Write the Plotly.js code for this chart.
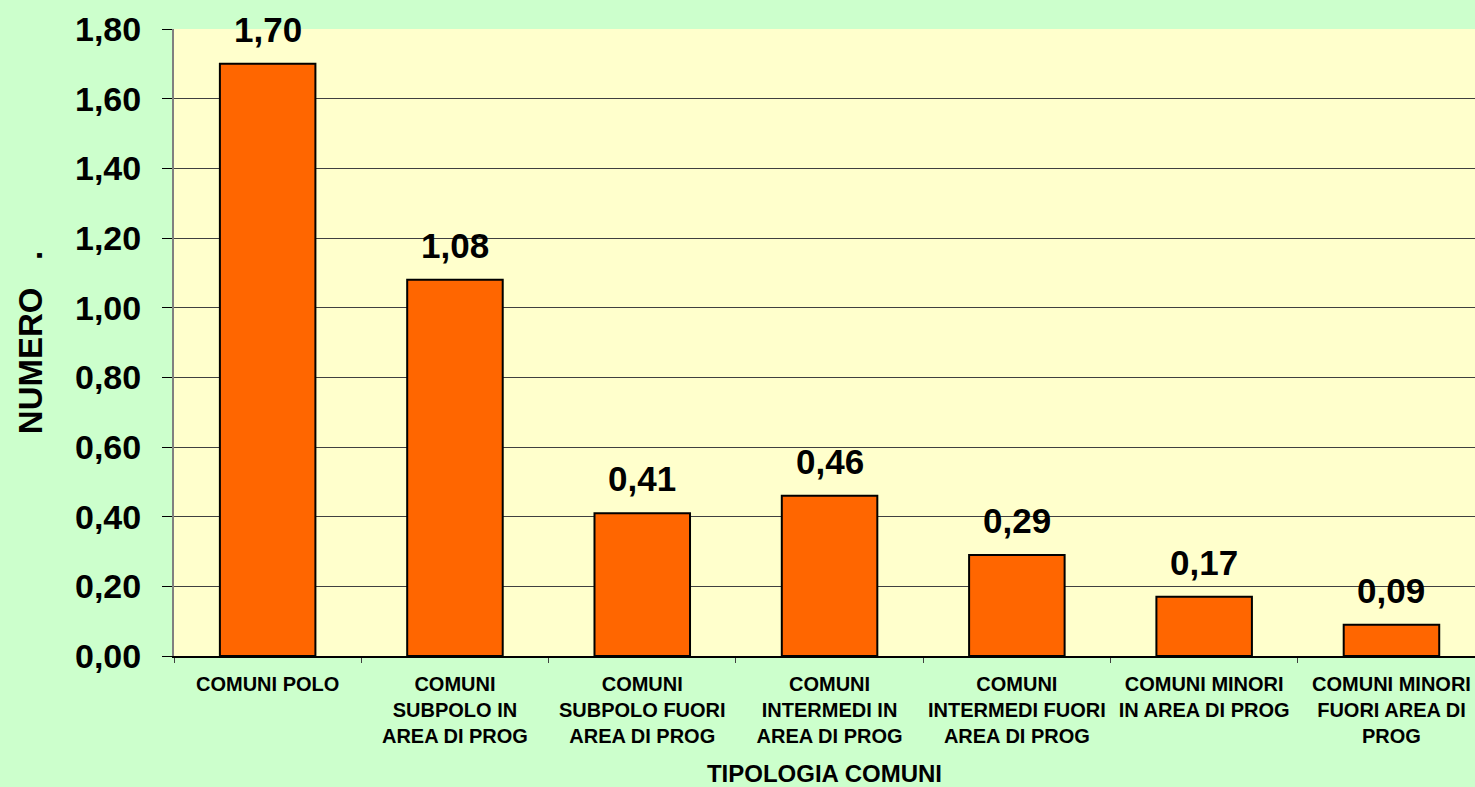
<!DOCTYPE html>
<html>
<head>
<meta charset="utf-8">
<script src="https://cdn.plot.ly/plotly-3.0.1.min.js"></script>
<style>
  html, body { margin: 0; padding: 0; background: #CCFFCC; }
  #chart { width: 1475px; height: 787px; }
</style>
</head>
<body>
<div id="chart"></div>
<script>
// Municipality types and their values
const categories = [
  "COMUNI POLO",
  "COMUNI SUBPOLO IN AREA DI PROG",
  "COMUNI SUBPOLO FUORI AREA DI PROG",
  "COMUNI INTERMEDI IN AREA DI PROG",
  "COMUNI INTERMEDI FUORI AREA DI PROG",
  "COMUNI MINORI IN AREA DI PROG",
  "COMUNI MINORI FUORI AREA DI PROG"
];
const tickLabels = [
  "COMUNI POLO",
  "COMUNI<br>SUBPOLO IN<br>AREA DI PROG",
  "COMUNI<br>SUBPOLO FUORI<br>AREA DI PROG",
  "COMUNI<br>INTERMEDI IN<br>AREA DI PROG",
  "COMUNI<br>INTERMEDI FUORI<br>AREA DI PROG",
  "COMUNI MINORI<br>IN AREA DI PROG",
  "COMUNI MINORI<br>FUORI AREA DI<br>PROG"
];
const values = [1.70, 1.08, 0.41, 0.46, 0.29, 0.17, 0.09];
const yTicks = [0, 0.2, 0.4, 0.6, 0.8, 1.0, 1.2, 1.4, 1.6, 1.8];

const FONT = '"Liberation Sans", Arial, sans-serif';

const bars = {
  type: 'bar',
  x: categories,
  y: values,
  width: 0.51,
  marker: { color: '#FF6600', line: { color: '#000000', width: 2 } },
  hoverinfo: 'x+y'
};

// value labels above each bar
const labels = categories.map((c, i) => ({
  x: c,
  y: values[i],
  xref: 'x',
  yref: 'y',
  text: '<b>' + values[i].toFixed(2).replace('.', ',') + '</b>',
  showarrow: false,
  yanchor: 'bottom',
  yshift: 13,
  font: { family: FONT, size: 35, color: '#000000' }
}));

const layout = {
  width: 1475,
  height: 787,
  paper_bgcolor: '#CCFFCC',
  plot_bgcolor: '#FFFFCC',
  separators: ',.',
  margin: { l: 174, r: 0, t: 29, b: 131 },
  showlegend: false,
  bargap: 0,
  xaxis: {
    type: 'category',
    range: [-0.5, 6.446],
    tickmode: 'array',
    tickvals: categories,
    ticktext: tickLabels,
    tickson: 'boundaries',
    ticks: 'outside',
    ticklen: 5,
    tickcolor: '#404040',
    tickwidth: 1,
    tickangle: 0,
    showline: true,
    linecolor: '#000000',
    linewidth: 2,
    showgrid: false,
    zeroline: false,
    automargin: false,
    ticklabelstandoff: 9,
    tickfont: { family: FONT, size: 20, color: '#000000', weight: 'bold' },
    title: {
      text: '<b>TIPOLOGIA COMUNI</b>',
      standoff: 23,
      font: { family: FONT, size: 24, color: '#000000' }
    }
  },
  yaxis: {
    range: [0, 1.8],
    tickmode: 'array',
    tickvals: yTicks,
    tickformat: '.2f',
    ticks: 'outside',
    ticklen: 10,
    tickcolor: '#000000',
    tickwidth: 1,
    showline: true,
    linecolor: '#808080',
    linewidth: 2,
    showgrid: true,
    gridcolor: '#404040',
    gridwidth: 1,
    zeroline: false,
    automargin: false,
    ticklabelstandoff: 14,
    tickfont: { family: FONT, size: 34, color: '#000000', weight: 'bold' },
    title: {
      text: '<b>NUMERO\u00a0\u00a0\u00a0.</b>',
      standoff: 22,
      font: { family: FONT, size: 33, color: '#000000' }
    }
  },
  annotations: labels
};

Plotly.newPlot('chart', [bars], layout, { displayModeBar: false, staticPlot: true });
</script>
</body>
</html>
